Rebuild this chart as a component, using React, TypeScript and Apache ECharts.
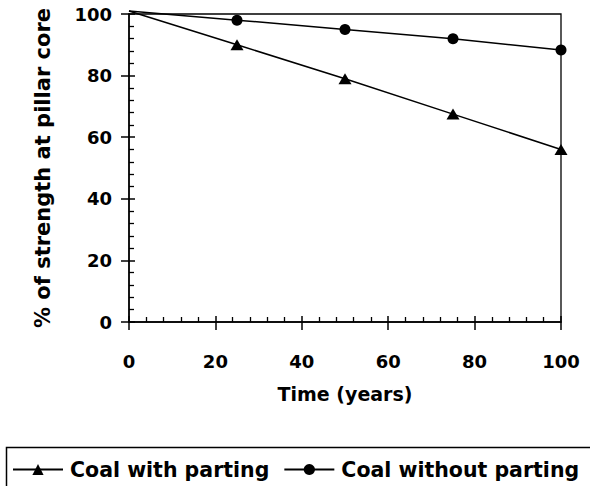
import React, { useEffect, useRef } from "react";
import * as echarts from "echarts";

const years = [0, 25, 50, 75, 100];
const withParting = [101, 90, 79, 67.5, 56];
const withoutParting = [101, 98, 95, 92, 88.3];
const seriesNames = ["Coal with parting", "Coal without parting"];
const xTitle = "Time (years)";
const yTitle = "% of strength at pillar core";

const FONT = "DejaVu Sans";

function toData(vals: number[]) {
  return years.map((x, i) =>
    i === 0 ? { value: [x, vals[i]], symbol: "none" } : { value: [x, vals[i]] }
  );
}

export default function App() {
  const ref = useRef<HTMLDivElement>(null);
  useEffect(() => {
    if (!ref.current) return;
    const chart = echarts.init(ref.current, undefined, { renderer: "svg" });
    const axisLine = { show: true, lineStyle: { color: "#000", width: 1.5 } };
    const baseX = { type: "value", min: 0, max: 100, interval: 20, position: "bottom" };
    const baseY = { type: "value", min: 0, max: 100, interval: 20, position: "left" };
    chart.setOption({
      animation: false,
      backgroundColor: "#fff",
      grid: {
        left: 129,
        right: 29,
        top: 14,
        bottom: 164,
        show: true,
        borderColor: "#000",
        borderWidth: 1.3,
        backgroundColor: "transparent",
      },
      graphic: [
        {
          type: "rect",
          left: 4,
          top: 445,
          shape: { width: 620, height: 80 },
          style: { fill: "none", stroke: "#000", lineWidth: 1.5 },
          silent: true,
        },
      ],
      xAxis: [
        {
          ...baseX,
          axisLine,
          axisTick: { show: true, inside: false, length: 8, lineStyle: { color: "#000", width: 1.5 } },
          axisLabel: { fontFamily: FONT, fontWeight: "bold", fontSize: 18, color: "#000", margin: 30 },
          splitLine: { show: false },
          name: xTitle,
          nameLocation: "middle",
          nameGap: 62,
          nameTextStyle: { fontFamily: FONT, fontWeight: "bold", fontSize: 19, color: "#000" },
        },
        {
          ...baseX,
          axisLine: { show: false },
          axisTick: { show: true, inside: true, length: 6, lineStyle: { color: "#000", width: 1.5 } },
          minorTick: { show: true, splitNumber: 5, length: 5, lineStyle: { color: "#000", width: 1.3 } },
          axisLabel: { show: false },
          splitLine: { show: false },
        },
      ],
      yAxis: [
        {
          ...baseY,
          axisLine,
          axisTick: { show: true, inside: false, length: 8, lineStyle: { color: "#000", width: 1.5 } },
          axisLabel: { fontFamily: FONT, fontWeight: "bold", fontSize: 18, color: "#000", margin: 17 },
          splitLine: { show: false },
          name: yTitle,
          nameLocation: "middle",
          nameGap: 76,
          nameTextStyle: { fontFamily: FONT, fontWeight: "bold", fontSize: 21, color: "#000" },
        },
        {
          ...baseY,
          axisLine: { show: false },
          axisTick: { show: true, inside: true, length: 6, lineStyle: { color: "#000", width: 1.5 } },
          minorTick: { show: true, splitNumber: 5, length: 5, lineStyle: { color: "#000", width: 1.3 } },
          axisLabel: { show: false },
          splitLine: { show: false },
        },
      ],
      legend: {
        left: 12,
        top: 459,
        width: 700,
        padding: 0,
        itemWidth: 50,
        itemHeight: 14,
        itemGap: 14,
        textStyle: { fontFamily: FONT, fontWeight: "bold", fontSize: 20.5, color: "#000", padding: [0, 0, 0, 2] },
        data: seriesNames,
      },
      series: [
        {
          name: seriesNames[0],
          type: "line",
          xAxisIndex: 0,
          yAxisIndex: 0,
          clip: false,
          data: toData(withParting),
          symbol: "triangle",
          symbolSize: [13, 11],
          lineStyle: { color: "#000", width: 1.5 },
          itemStyle: { color: "#000" },
        },
        {
          name: seriesNames[1],
          type: "line",
          xAxisIndex: 0,
          yAxisIndex: 0,
          clip: false,
          data: toData(withoutParting),
          symbol: "circle",
          symbolSize: 11,
          lineStyle: { color: "#000", width: 1.5 },
          itemStyle: { color: "#000" },
        },
      ],
    });
    return () => chart.dispose();
  }, []);
  return <div ref={ref} style={{ width: 590, height: 486, position: "absolute", left: 0, top: 0 }} />;
}
